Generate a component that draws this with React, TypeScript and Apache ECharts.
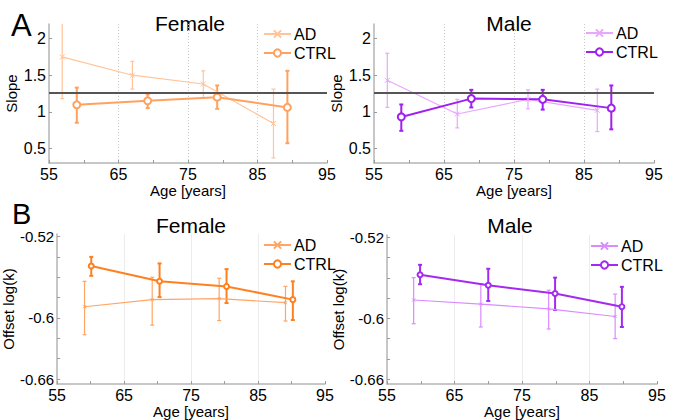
import React, { useEffect, useRef } from "react";
import * as echarts from "echarts";

// ---------- data ----------
const slopeRef = 1.26;

const slopeFemaleADAge = [56.9, 67.0, 77.2, 87.3];
const slopeFemaleAD = [1.75, 1.5, 1.38, 0.84];
const slopeFemaleADLo = [1.18, 1.31, 1.19, 0.37];
const slopeFemaleADHi = [2.25, 1.69, 1.56, 1.31];

const slopeFemaleCTRLAge = [59.0, 69.2, 79.2, 89.3];
const slopeFemaleCTRL = [1.095, 1.15, 1.2, 1.06];
const slopeFemaleCTRLLo = [0.85, 1.05, 1.04, 0.57];
const slopeFemaleCTRLHi = [1.33, 1.24, 1.36, 1.56];

const slopeMaleADAge = [56.9, 66.9, 77.0, 86.9];
const slopeMaleAD = [1.43, 0.97, 1.17, 1.02];
const slopeMaleADLo = [1.06, 0.78, 1.04, 0.73];
const slopeMaleADHi = [1.8, 1.17, 1.3, 1.31];

const slopeMaleCTRLAge = [58.9, 68.9, 79.1, 88.9];
const slopeMaleCTRL = [0.93, 1.18, 1.17, 1.05];
const slopeMaleCTRLLo = [0.74, 1.06, 1.03, 0.76];
const slopeMaleCTRLHi = [1.1, 1.3, 1.3, 1.36];

const offsetFemaleADAge = [59.1, 69.2, 79.2, 89.1];
const offsetFemaleAD = [-0.589, -0.582, -0.581, -0.585];
const offsetFemaleADLo = [-0.6165, -0.607, -0.6026, -0.603];
const offsetFemaleADHi = [-0.564, -0.56, -0.561, -0.569];

const offsetFemaleCTRLAge = [60.1, 70.3, 80.3, 90.2];
const offsetFemaleCTRL = [-0.549, -0.564, -0.569, -0.582];
const offsetFemaleCTRLLo = [-0.5586, -0.5795, -0.5853, -0.602];
const offsetFemaleCTRLHi = [-0.54, -0.5464, -0.552, -0.564];

const offsetMaleADAge = [58.95, 68.9, 78.95, 88.8];
const offsetMaleAD = [-0.5818, -0.5858, -0.5906, -0.5981];
const offsetMaleADLo = [-0.6053, -0.6085, -0.6105, -0.62];
const offsetMaleADHi = [-0.5597, -0.5656, -0.5721, -0.576];

const offsetMaleCTRLAge = [59.9, 70.0, 79.9, 89.8];
const offsetMaleCTRL = [-0.5568, -0.5672, -0.5753, -0.5884];
const offsetMaleCTRLLo = [-0.5662, -0.5828, -0.5916, -0.6085];
const offsetMaleCTRLHi = [-0.547, -0.5509, -0.5597, -0.5688];

const ageTicks = [55, 65, 75, 85, 95];
const slopeTicks = [0.5, 1, 1.5, 2];
const offsetLabels = [-0.52, -0.6, -0.66];
const offsetTicks = [-0.52, -0.54, -0.56, -0.58, -0.6, -0.62, -0.64, -0.66];

// ---------- helpers ----------
const FONT = "'Liberation Sans', Arial, Helvetica, sans-serif";
const CROSS = "path://M0,0L10,10M10,0L0,10";
const ZW = "\u200b";

const pairs = (xs: number[], ys: number[]) => xs.map((x, i) => [x, ys[i]]);
const triples = (xs: number[], lo: number[], hi: number[]) =>
  xs.map((x, i) => [x, lo[i], hi[i]]);

function errSeries(idx: number, data: number[][], color: string, lw: number, cap: number) {
  return {
    type: "custom",
    xAxisIndex: idx,
    yAxisIndex: idx,
    clip: true,
    silent: true,
    z: 3,
    encode: { x: 0, y: [1, 2] },
    data,
    renderItem: (params: any, api: any) => {
      const x = api.value(0);
      const lo = api.value(1);
      const hi = api.value(2);
      const p1 = api.coord([x, lo]);
      const p2 = api.coord([x, hi]);
      const st = { stroke: color, lineWidth: lw };
      return {
        type: "group",
        children: [
          { type: "line", shape: { x1: p1[0], y1: p1[1], x2: p2[0], y2: p2[1] }, style: st },
          { type: "line", shape: { x1: p1[0] - cap, y1: p1[1], x2: p1[0] + cap, y2: p1[1] }, style: st },
          { type: "line", shape: { x1: p2[0] - cap, y1: p2[1], x2: p2[0] + cap, y2: p2[1] }, style: st },
        ],
      };
    },
  };
}

function lineSeries(
  idx: number,
  name: string,
  data: number[][],
  color: string,
  lw: number,
  symbol: string,
  size: number,
  extra: any = {}
) {
  return {
    type: "line",
    name,
    xAxisIndex: idx,
    yAxisIndex: idx,
    data,
    symbol,
    symbolSize: size,
    showSymbol: true,
    z: 4,
    lineStyle: { color, width: lw },
    itemStyle: { color, borderColor: color, borderWidth: symbol === CROSS ? 1 : lw },
    emphasis: { disabled: true },
    ...extra,
  };
}

function xAxis(idx: number, dottedGrid: boolean, nameGap: number) {
  return {
    type: "value",
    gridIndex: idx,
    min: 55,
    max: 95,
    interval: 10,
    name: "Age [years]",
    nameLocation: "middle",
    nameGap,
    nameTextStyle: { color: "#000", fontSize: 15, fontFamily: FONT },
    axisLine: { show: true, lineStyle: { color: "#b5b5b5", width: 1.5 } },
    axisTick: { show: true, inside: true, length: 3, lineStyle: { color: "#999" } },
    minorTick: { show: true, splitNumber: 2, length: 3, lineStyle: { color: "#999" } },
    axisLabel: {
      color: "#000",
      fontSize: 16,
      fontFamily: FONT,
      margin: 3,
      customValues: ageTicks,
    },
    splitLine: {
      show: true,
      showMinLine: false,
      showMaxLine: false,
      lineStyle: dottedGrid
        ? { color: "#c8c8c8", type: [1, 2], width: 1 }
        : { color: "#ececec", type: "solid", width: 1 },
    },
  };
}

function slopeYAxis(idx: number) {
  return {
    type: "value",
    gridIndex: idx,
    min: 0.3,
    max: 2.2,
    name: "Slope",
    nameLocation: "middle",
    nameGap: 30,
    nameTextStyle: { color: "#000", fontSize: 15, fontFamily: FONT },
    axisLine: { show: true, lineStyle: { color: "#b5b5b5", width: 1.5 } },
    axisTick: { show: true, inside: true, length: 3, customValues: slopeTicks, lineStyle: { color: "#999" } },
    axisLabel: {
      color: "#000",
      fontSize: 16,
      fontFamily: FONT,
      margin: 3,
      customValues: slopeTicks,
      formatter: (v: number) => String(v),
    },
    splitLine: { show: false },
  };
}

function offsetYAxis(idx: number, nameGap: number) {
  return {
    type: "value",
    gridIndex: idx,
    min: -0.665,
    max: -0.5175,
    name: "Offset log(k)",
    nameLocation: "middle",
    nameGap,
    nameTextStyle: { color: "#000", fontSize: 15, fontFamily: FONT },
    axisLine: { show: true, lineStyle: { color: "#b5b5b5", width: 1.5 } },
    axisTick: { show: true, inside: true, length: 3, customValues: offsetTicks, lineStyle: { color: "#999" } },
    axisLabel: {
      color: "#000",
      fontSize: 15,
      fontFamily: FONT,
      margin: 3,
      customValues: offsetLabels,
      formatter: (v: number) => String(Number(v.toFixed(2))),
    },
    splitLine: { show: false },
  };
}

function legend(names: string[], left: number, top: number) {
  return {
    show: true,
    orient: "vertical",
    left,
    top,
    padding: 0,
    itemGap: 3,
    itemWidth: 27,
    itemHeight: 9,
    selectedMode: false,
    data: names,
    formatter: (n: string) => n.split(ZW).join(""),
    textStyle: { color: "#000", fontSize: 16, fontFamily: FONT, lineHeight: 16, padding: [0, 0, 0, -2] },
  };
}

// colours
const fADA = "#ffc49a";
const fCTA = "#ffa25f";
const mADA = "#e9a6ff";
const mCTA = "#a020f0";
const fADB = "#ffa565";
const fCTB = "#ff8020";
const mADB = "#d98cff";
const mCTB = "#a52af0";

export default function App() {
  const ref = useRef<HTMLDivElement>(null);
  useEffect(() => {
    if (!ref.current) return;
    const chart = echarts.init(ref.current, undefined, { renderer: "svg" });
    const refLine = {
      markLine: {
        silent: true,
        symbol: "none",
        label: { show: false },
        lineStyle: { color: "#555", width: 2, type: "solid" },
        data: [{ yAxis: slopeRef }],
      },
    };
    const titleStyle = (text: string) => ({
      text,
      fontSize: 21,
      fontFamily: FONT,
      fill: "#000",
      align: "center",
      verticalAlign: "middle",
    });
    const option: any = {
      animation: false,
      backgroundColor: "#fff",
      textStyle: { fontFamily: FONT },
      grid: [
        { left: 49, top: 24, width: 278, height: 139 },
        { left: 374, top: 24, width: 280, height: 139 },
        { left: 55, top: 234, width: 270, height: 153 },
        { left: 387, top: 235, width: 270, height: 151 },
      ],
      xAxis: [xAxis(0, true, 17), xAxis(1, true, 17), xAxis(2, false, 13), xAxis(3, false, 13)],
      yAxis: [slopeYAxis(0), slopeYAxis(1), offsetYAxis(2, 35), offsetYAxis(3, 38)],
      legend: [
        legend(["AD", "CTRL"], 263, 26),
        legend(["AD" + ZW, "CTRL" + ZW], 585, 25),
        legend(["AD" + ZW + ZW, "CTRL" + ZW + ZW], 263, 237),
        legend(["AD" + ZW + ZW + ZW, "CTRL" + ZW + ZW + ZW], 590, 238),
      ],
      graphic: [
        { type: "text", x: 11, y: 25, style: { text: "A", fontSize: 31, fontFamily: FONT, fill: "#000", verticalAlign: "middle" } },
        { type: "text", x: 12, y: 214, style: { text: "B", fontSize: 29, fontFamily: FONT, fill: "#000", verticalAlign: "middle" } },
        { type: "text", x: 190, y: 23, style: titleStyle("Female") },
        { type: "text", x: 509, y: 23, style: titleStyle("Male") },
        { type: "text", x: 191, y: 225, style: titleStyle("Female") },
        { type: "text", x: 510, y: 225, style: titleStyle("Male") },
      ],
      series: [
        // A Female
        lineSeries(0, "AD", pairs(slopeFemaleADAge, slopeFemaleAD), fADA, 1.2, CROSS, 5),
        lineSeries(0, "CTRL", pairs(slopeFemaleCTRLAge, slopeFemaleCTRL), fCTA, 2, "emptyCircle", 7, refLine),
        errSeries(0, triples(slopeFemaleADAge, slopeFemaleADLo, slopeFemaleADHi), fADA, 1.2, 2),
        errSeries(0, triples(slopeFemaleCTRLAge, slopeFemaleCTRLLo, slopeFemaleCTRLHi), fCTA, 2, 2),
        // A Male
        lineSeries(1, "AD" + ZW, pairs(slopeMaleADAge, slopeMaleAD), mADA, 1.2, CROSS, 5),
        lineSeries(1, "CTRL" + ZW, pairs(slopeMaleCTRLAge, slopeMaleCTRL), mCTA, 2, "emptyCircle", 7, refLine),
        errSeries(1, triples(slopeMaleADAge, slopeMaleADLo, slopeMaleADHi), mADA, 1.2, 2),
        errSeries(1, triples(slopeMaleCTRLAge, slopeMaleCTRLLo, slopeMaleCTRLHi), mCTA, 2, 2),
        // B Female
        lineSeries(2, "AD" + ZW + ZW, pairs(offsetFemaleADAge, offsetFemaleAD), fADB, 1.2, CROSS, 3),
        lineSeries(2, "CTRL" + ZW + ZW, pairs(offsetFemaleCTRLAge, offsetFemaleCTRL), fCTB, 2, "emptyCircle", 5),
        errSeries(2, triples(offsetFemaleADAge, offsetFemaleADLo, offsetFemaleADHi), fADB, 1.2, 2),
        errSeries(2, triples(offsetFemaleCTRLAge, offsetFemaleCTRLLo, offsetFemaleCTRLHi), fCTB, 2, 2),
        // B Male
        lineSeries(3, "AD" + ZW + ZW + ZW, pairs(offsetMaleADAge, offsetMaleAD), mADB, 1.2, CROSS, 3),
        lineSeries(3, "CTRL" + ZW + ZW + ZW, pairs(offsetMaleCTRLAge, offsetMaleCTRL), mCTB, 2, "emptyCircle", 5),
        errSeries(3, triples(offsetMaleADAge, offsetMaleADLo, offsetMaleADHi), mADB, 1.2, 2),
        errSeries(3, triples(offsetMaleCTRLAge, offsetMaleCTRLLo, offsetMaleCTRLHi), mCTB, 2, 2),
      ],
    };
    chart.setOption(option);
    return () => chart.dispose();
  }, []);
  return (
    <div
      ref={ref}
      style={{ position: "fixed", left: 0, top: 0, width: 675, height: 420, background: "#fff" }}
    />
  );
}
